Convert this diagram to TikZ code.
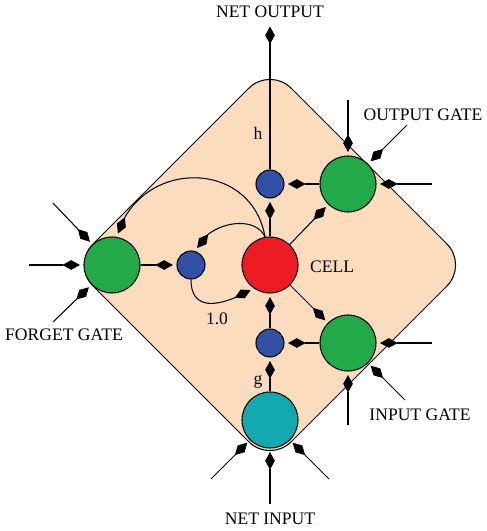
\documentclass[tikz,border=0pt]{standalone}
\usepackage{fontspec}
\setmainfont{Liberation Serif}
\usetikzlibrary{positioning, arrows.meta, bending}
\definecolor{peach}{RGB}{251,221,190}
\definecolor{cellred}{RGB}{237,28,36}
\definecolor{gategreen}{RGB}{34,170,72}
\definecolor{unitblue}{RGB}{50,80,165}
\definecolor{inteal}{RGB}{18,170,175}

\begin{document}
\begin{tikzpicture}[
		every edge/.style = {draw=black, line width=0.6pt,
			-{Kite[length=10pt,width=5.5pt,inset=5pt]}, shorten >=2pt},
		gate/.style = {circle, draw, line width=0.6pt, fill=gategreen,
			minimum size=1.12cm, inner sep=0pt},
		unit/.style = {circle, draw, line width=0.6pt, fill=unitblue,
			minimum size=0.56cm, inner sep=0pt}
                    ]
		\useasboundingbox (-5.4,-5.32) rectangle (4.34,5.3);
		% block
		\draw[line width=0.6pt, fill=peach, rounded corners=0.6cm]
			(0,3.96) -- (3.96,0) -- (0,-3.96) -- (-3.96,0) -- cycle;

		\node(cell)  [gate, fill=cellred] at (0,0) {};
		\node(fgate) [gate] at (-3.16,0) {};
		\node(ogate) [gate] at (1.56,1.62) {};
		\node(igate) [gate] at (1.56,-1.56) {};
		\node(netin) [gate, fill=inteal] at (0,-3.1) {};
		\node(lunit) [unit] at (-1.58,0) {};
		\node(tunit) [unit] at (0,1.62) {};
		\node(bunit) [unit] at (0,-1.56) {};

		\node(cellname) [anchor=west] at (0.68,-0.04) {CELL};
		\node(hname) at (-0.24,2.64) {h};
		\node(gname) at (-0.24,-2.34) {g};
		\node(wname) at (-1.06,-1.08) {1.0};
		\node(outname) at (0,5.06) {NET OUTPUT};
		\node(inname) at (0,-5.08) {NET INPUT};
		\node(ogname) at (3.06,3.0) {OUTPUT GATE};
		\node(igname) at (3.0,-3.0) {INPUT GATE};
		\node(fgname) at (-4.12,-1.4) {FORGET GATE};

		% free ends
		\coordinate(out) at (0,4.84);
		\coordinate(o1) at (1.56,3.3);
		\coordinate(o2) at (2.74,2.8);
		\coordinate(o3) at (3.24,1.62);
		\coordinate(i1) at (3.24,-1.56);
		\coordinate(i2) at (2.7,-2.7);
		\coordinate(i3) at (1.56,-3.2);
		\coordinate(f1) at (-4.34,1.24);
		\coordinate(f2) at (-4.82,0);
		\coordinate(f3) at (-4.34,-1.14);
		\coordinate(n1) at (-1.18,-4.28);
		\coordinate(n2) at (0,-4.78);
		\coordinate(n3) at (1.18,-4.28);

		\path   (cell) edge (tunit)
		        (cell) edge (ogate)
		        (ogate) edge (tunit)
		        (tunit) edge (out)
		        (cell) edge (igate)
		        (igate) edge (bunit)
		        (bunit) edge (cell)
		        (netin) edge (bunit)
		        (fgate) edge (lunit)
		        (cell.100) edge[out=100, in=75, looseness=1.4] (fgate.80)
		        (cell.100) edge[out=115, in=75] (lunit.70)
		        (lunit.-90) edge[out=-90, in=210, looseness=1.4] (cell.235);

		\path   (o1) edge (ogate) (o2) edge (ogate) (o3) edge (ogate)
		        (i1) edge (igate) (i2) edge (igate) (i3) edge (igate)
		        (f1) edge (fgate) (f2) edge (fgate) (f3) edge (fgate)
		        (n1) edge (netin) (n2) edge (netin) (n3) edge (netin);
	\end{tikzpicture}
\end{document}
